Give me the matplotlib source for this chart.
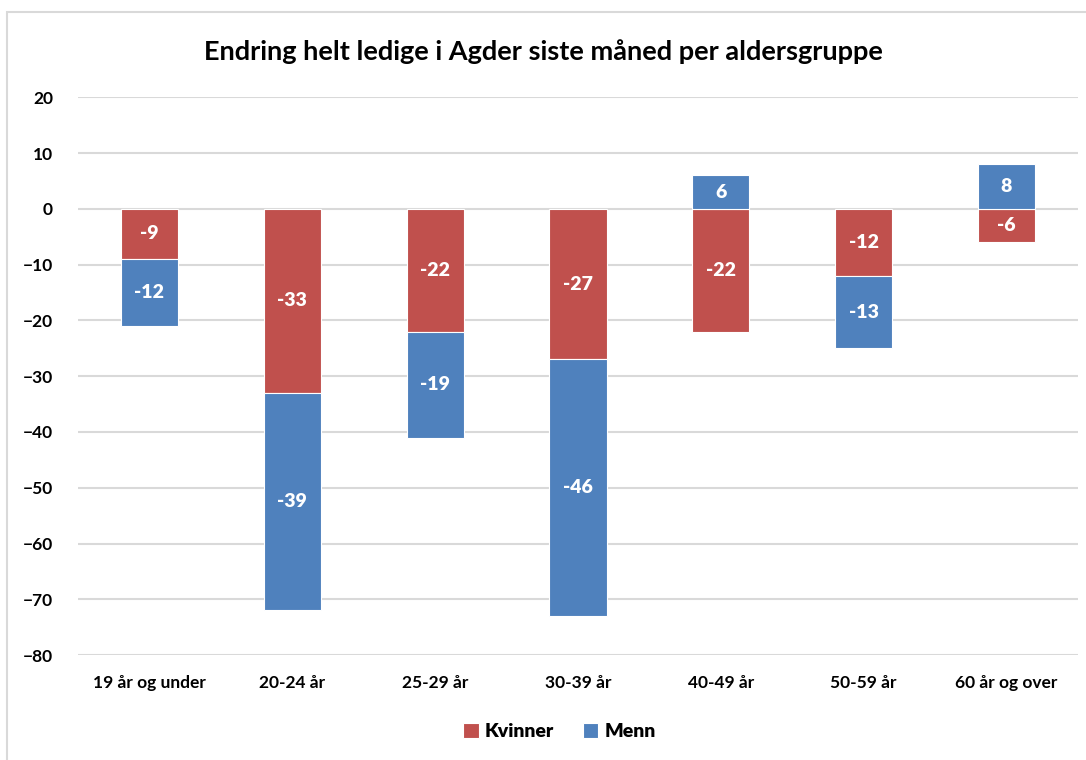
import numpy as np
import matplotlib.pyplot as plt
from matplotlib.patches import Rectangle
from matplotlib.font_manager import FontProperties

# data
groups = ['19 år og under', '20-24 år', '25-29 år', '30-39 år',
          '40-49 år', '50-59 år', '60 år og over']
kvinner = np.array([-9, -33, -22, -27, -22, -12, -6])
menn = np.array([-12, -39, -19, -46, 6, -13, 8])

red = '#C0504D'
blue = '#4F81BD'

plt.rcParams['font.family'] = ['Lato', 'DejaVu Sans']
bold = FontProperties(family='Lato', weight='bold')
heavy = FontProperties(family='Lato', weight='heavy')

fig = plt.figure(figsize=(10.86, 7.6), dpi=100)
ax = fig.add_axes([0.0718, 0.138, 0.9208, 0.734])

# chart border like the Excel chart area
fig.patches.append(Rectangle((0.006, -0.05), 1.2, 1.034, transform=fig.transFigure,
                             fill=False, edgecolor='#D9D9D9', linewidth=1.5))

x = np.arange(len(groups))
w = 0.4

# stack: negative values go down from the previous negative, positives go up
b1 = ax.bar(x, kvinner, w, color=red, edgecolor='white',
            linewidth=0.8, label='Kvinner', zorder=3)
m_bottom = np.where(menn < 0, np.minimum(kvinner, 0), np.maximum(kvinner, 0))
b2 = ax.bar(x, menn, w, bottom=m_bottom, color=blue, edgecolor='white',
            linewidth=0.8, label='Menn', zorder=3)

for bars in (b1, b2):
    texts = ax.bar_label(bars, labels=[f'{v:g}' for v in bars.datavalues],
                         label_type='center', color='white')
    for t in texts:
        t.set_fontproperties(heavy)
        t.set_fontsize(14)

ax.set_xlim(-0.5, 6.5)
ax.set_ylim(-80, 20)
ax.set_yticks(np.arange(-80, 21, 10))
ax.set_xticks(x)
ax.set_xticklabels(groups)
ax.tick_params(length=0, pad=14)
ax.tick_params(axis='y', pad=18)
for lab in ax.get_xticklabels() + ax.get_yticklabels():
    lab.set_fontproperties(bold)
    lab.set_fontsize(12.5)
ax.yaxis.grid(True, color='#D9D9D9', linewidth=1.5, zorder=0)
ax.set_axisbelow(True)
for s in ax.spines.values():
    s.set_visible(False)

fig.text(0.5, 0.932, 'Endring helt ledige i Agder siste måned per aldersgruppe',
         ha='center', va='center', fontproperties=bold, fontsize=19.5)

leg_prop = FontProperties(family='Lato', weight='heavy', size=14)
fig.legend(handles=[b1, b2], loc='center', bbox_to_anchor=(0.515, 0.037), ncol=2,
           frameon=False, prop=leg_prop,
           handlelength=0.8, handleheight=0.8, handletextpad=0.3, columnspacing=1.5)

fig.savefig('out.png', dpi=100)
